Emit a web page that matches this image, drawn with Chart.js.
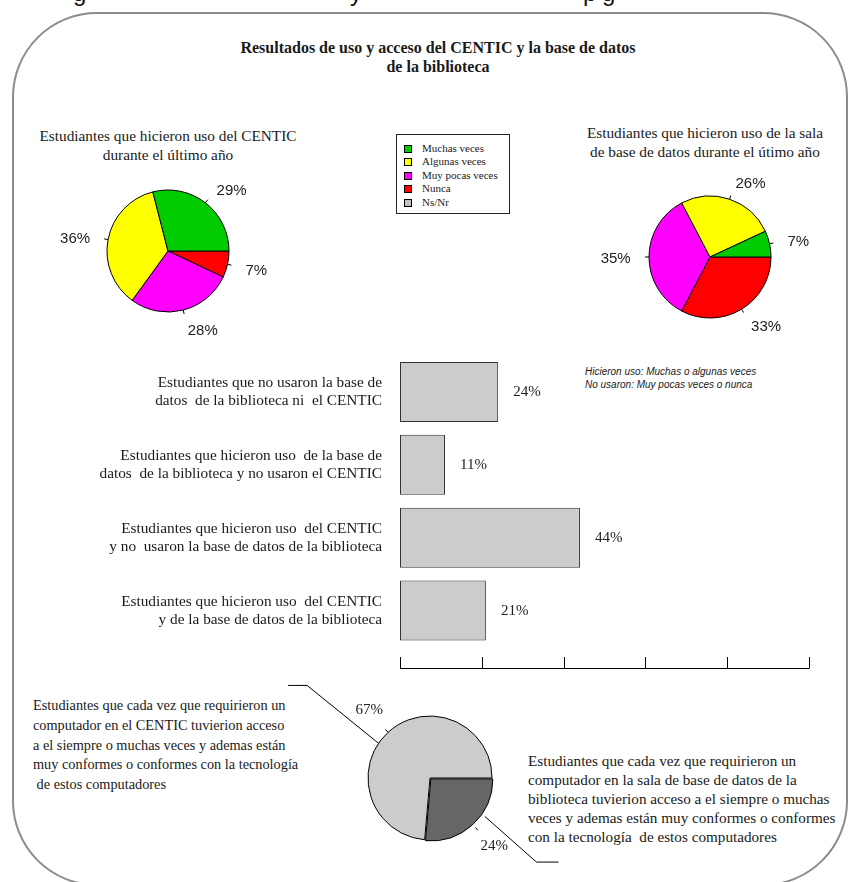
<!DOCTYPE html>
<html>
<head>
<meta charset="utf-8">
<title>Resultados de uso y acceso del CENTIC</title>
<script src="https://cdn.jsdelivr.net/npm/chart.js@4.4.1/dist/chart.umd.min.js"></script>
<style>
  body { margin: 0; width: 851px; height: 882px; overflow: hidden; background: #fff; position: relative;
         font-family: "Liberation Serif", "Times New Roman", serif; color: #1a1a1a; }
  .abs { position: absolute; }
  .frame { position: absolute; left: 12px; top: 12px; width: 836px; height: 874px; box-sizing: border-box;
           border: 2.5px solid #8c8c8c; border-radius: 85px; }
  .clip { position: absolute; top: -19px; font: 24px "Liberation Sans", sans-serif; line-height: 24px; color: #111; }
  .title { font-weight: bold; font-size: 16px; line-height: 19px; text-align: center; }
  .ptitle { font-size: 15.3px; line-height: 19px; text-align: center; }
  .note { font: italic 10px "Liberation Sans", sans-serif; line-height: 12.5px; }
  .block { white-space: pre; }
  #legend { left: 396px; top: 134px; width: 114px; height: 80px; box-sizing: border-box; border: 1px solid #222; }
  .lrow { position: absolute; left: 0; height: 13.5px; line-height: 13.5px; font-size: 11px; }
  .lsq { position: absolute; left: 7px; top: 3px; width: 8px; height: 8px; box-sizing: border-box; border: 1px solid #000; }
  .ltx { position: absolute; left: 25px; white-space: nowrap; }
  canvas { position: absolute; }
</style>
</head>
<body>
<div class="frame"></div>
<span class="clip" style="left:73px">g</span>
<span class="clip" style="left:350px">y</span>
<span class="clip" style="left:583px">p</span>
<span class="clip" style="left:602px">g</span>

<div class="abs title" style="left:0;width:876px;top:37.5px">Resultados de uso y acceso del CENTIC y la base de datos<br>de la biblioteca</div>
<div class="abs ptitle" style="left:-32px;width:400px;top:125.5px">Estudiantes que hicieron uso del CENTIC<br>durante el último año</div>
<div class="abs ptitle" style="left:505px;width:400px;top:122.5px">Estudiantes que hicieron uso de la sala<br>de base de datos durante el útimo año</div>
<div id="legend" class="abs"></div>
<div class="abs note" style="left:585px;top:366px">Hicieron uso: Muchas o algunas veces<br>No usaron: Muy pocas veces o nunca</div>

<div class="abs block" style="left:33px;top:696px;font-size:14.3px;line-height:19.8px">Estudiantes que cada vez que requirieron un
computador en el CENTIC tuvierion acceso
a el siempre o muchas veces y ademas están
muy conformes o conformes con la tecnología
 de estos computadores</div>
<div class="abs block" style="left:528px;top:750.5px;font-size:15.2px;line-height:19px">Estudiantes que cada vez que requirieron un
computador en la sala de base de datos de la
biblioteca tuvierion acceso a el siempre o muchas
veces y ademas están muy conformes o conformes
con la tecnología  de estos computadores</div>

<canvas id="pie1" width="260" height="200" style="left:38px;top:151px"></canvas>
<canvas id="pie2" width="260" height="200" style="left:580px;top:157px"></canvas>
<canvas id="bars" width="730" height="340" style="left:100px;top:340px"></canvas>
<canvas id="pie3" width="300" height="196" style="left:280px;top:680px"></canvas>

<script>
// Categories and values
const freqCategories = ["Muchas veces", "Algunas veces", "Muy pocas veces", "Nunca", "Ns/Nr"];
const freqColors = ["#00cc00", "#ffff00", "#ff00ff", "#ff0000", "#c0c0c0"];
const centicValues = [29, 36, 28, 7];       // Uso del CENTIC
const salaValues = [7, 26, 35, 33];         // Uso de la sala de base de datos

const barLabels = [
  ["Estudiantes que no usaron la base de", "datos  de la biblioteca ni  el CENTIC"],
  ["Estudiantes que hicieron uso  de la base de", "datos  de la biblioteca y no usaron el CENTIC"],
  ["Estudiantes que hicieron uso  del CENTIC", "y no  usaron la base de datos de la biblioteca"],
  ["Estudiantes que hicieron uso  del CENTIC", "y de la base de datos de la biblioteca"]
];
const barValues = [24, 11, 44, 21];
const axisTicks = [0, 20, 40, 60, 80, 100];

const accessLabels = ["CENTIC", "Sala de base de datos"];
const accessValues = [67, 24];
const accessColors = ["#cccccc", "#666666"];

const SERIF = '"Liberation Serif", "Times New Roman", serif';
const SANS = '"Liberation Sans", Arial, sans-serif';

// Legend box
const legend = document.getElementById("legend");
freqCategories.forEach((name, i) => {
  const row = document.createElement("div");
  row.className = "lrow";
  row.style.top = (6.5 + i * 13.5) + "px";
  row.style.width = "110px";
  row.innerHTML = '<span class="lsq" style="background:' + freqColors[i] + '"></span><span class="ltx">' + name + "</span>";
  legend.appendChild(row);
});

// Percent labels outside the slices, with a small tick on the edge
const pieLabels = {
  id: "pieLabels",
  afterDatasetsDraw(chart, args, opts) {
    const ctx = chart.ctx;
    const vals = chart.data.datasets[0].data;
    chart.getDatasetMeta(0).data.forEach((arc, i) => {
      const mid = (arc.startAngle + arc.endAngle) / 2;
      const c = Math.cos(mid), s = Math.sin(mid);
      const off = arc.options.offset || 0;
      const cx = arc.x + c * off, cy = arc.y + s * off;
      const r = arc.outerRadius;
      ctx.save();
      ctx.strokeStyle = "#000";
      ctx.lineWidth = 1;
      ctx.beginPath();
      ctx.moveTo(cx + c * r, cy + s * r);
      ctx.lineTo(cx + c * (r + 4), cy + s * (r + 4));
      ctx.stroke();
      ctx.font = opts.font;
      ctx.fillStyle = "#222";
      ctx.textBaseline = "middle";
      ctx.textAlign = opts.center ? "center" : (c >= 0 ? "left" : "right");
      const d = r * opts.dist;
      ctx.fillText(vals[i] + "%", cx + c * d, cy + s * d + (opts.dy || 0));
      ctx.restore();
    });
  }
};

// Leader lines from the slices to the texts
const leaders = {
  id: "leaders",
  afterDatasetsDraw(chart, args, opts) {
    const ctx = chart.ctx;
    const arcs = chart.getDatasetMeta(0).data;
    ctx.save();
    ctx.strokeStyle = "#000";
    ctx.lineWidth = 1;
    opts.lines.forEach(l => {
      const arc = arcs[l.index];
      const mid = (arc.startAngle + arc.endAngle) / 2;
      const off = arc.options.offset || 0;
      const cx = arc.x + Math.cos(mid) * off, cy = arc.y + Math.sin(mid) * off;
      const a = l.angle * Math.PI / 180, d = l.dir * Math.PI / 180;
      const x0 = cx + Math.cos(a) * arc.outerRadius, y0 = cy + Math.sin(a) * arc.outerRadius;
      const x1 = x0 + Math.cos(d) * l.len, y1 = y0 + Math.sin(d) * l.len;
      ctx.beginPath();
      ctx.moveTo(x0, y0);
      ctx.lineTo(x1, y1);
      ctx.lineTo(x1 + l.tail, y1);
      ctx.stroke();
    });
    ctx.restore();
  }
};

// Pies are drawn counter-clockwise from 3 o'clock, so feed them reversed
function makePie(id, values, colors, extra) {
  return new Chart(document.getElementById(id), {
    type: "pie",
    data: {
      labels: values.map((v, i) => i).reverse(),
      datasets: [{
        data: values.slice().reverse(),
        backgroundColor: colors.slice(0, values.length).reverse(),
        borderColor: "#000",
        borderWidth: 1,
        offset: extra.offset || 0
      }]
    },
    options: {
      responsive: false,
      animation: false,
      rotation: 90,
      radius: extra.radius,
      plugins: {
        legend: { display: false },
        tooltip: { enabled: false },
        pieLabels: extra.labels,
        leaders: extra.leaders || { lines: [] }
      }
    },
    plugins: [pieLabels, leaders]
  });
}

makePie("pie1", centicValues, freqColors, {
  radius: 61,
  labels: { font: "15px " + SANS, dist: 1.3, dy: 3 }
});
makePie("pie2", salaValues, freqColors, {
  radius: 61,
  labels: { font: "15px " + SANS, dist: 1.3, dy: 2 }
});
makePie("pie3", accessValues, accessColors, {
  radius: 62,
  offset: ctx => (ctx.dataIndex === 0 ? 5 : 0),
  labels: { font: "15px " + SERIF, dist: 1.45, center: true, dy: -2 },
  leaders: {
    lines: [
      { index: 1, angle: -146, dir: -141, len: 92, tail: -19 },
      { index: 0, angle: 34, dir: 41.5, len: 69, tail: 22 }
    ]
  }
});

// Axis line with ticks pointing up, and value labels next to each bar
const barExtras = {
  id: "barExtras",
  afterDatasetsDraw(chart) {
    const ctx = chart.ctx;
    const xs = chart.scales.x;
    const y0 = Math.round(chart.chartArea.bottom + 21);
    ctx.save();
    ctx.strokeStyle = "#000";
    ctx.lineWidth = 1;
    ctx.beginPath();
    ctx.moveTo(xs.getPixelForValue(axisTicks[0]), y0 + 0.5);
    ctx.lineTo(xs.getPixelForValue(axisTicks[axisTicks.length - 1]), y0 + 0.5);
    axisTicks.forEach(t => {
      const x = Math.round(xs.getPixelForValue(t)) + 0.5;
      ctx.moveTo(x, y0 - 11);
      ctx.lineTo(x, y0 + 0.5);
    });
    ctx.stroke();
    ctx.font = "15px " + SERIF;
    ctx.fillStyle = "#222";
    ctx.textBaseline = "middle";
    ctx.textAlign = "left";
    chart.getDatasetMeta(0).data.forEach((bar, i) => {
      ctx.fillText(barValues[i] + "%", bar.x + 15, bar.y);
    });
    ctx.restore();
  }
};

new Chart(document.getElementById("bars"), {
  type: "bar",
  data: {
    labels: barLabels,
    datasets: [{
      data: barValues,
      backgroundColor: "#cccccc",
      borderColor: "#333",
      borderWidth: 1,
      borderSkipped: false,
      barPercentage: 0.823,
      categoryPercentage: 1
    }]
  },
  options: {
    indexAxis: "y",
    responsive: false,
    animation: false,
    layout: { padding: { top: 15.5, right: 21, bottom: 33, left: 0 } },
    scales: {
      x: { display: false, min: 0, max: 100 },
      y: {
        grid: { display: false, drawTicks: false },
        border: { display: false },
        ticks: { color: "#1a1a1a", padding: 18, font: { family: SERIF, size: 15.3, lineHeight: 1.176 } },
        afterFit(scale) {
          scale.width = 300;
          scale.paddingTop = 0;
          scale.paddingBottom = 0;
        }
      }
    },
    plugins: { legend: { display: false }, tooltip: { enabled: false } }
  },
  plugins: [barExtras]
});
</script>
</body>
</html>
